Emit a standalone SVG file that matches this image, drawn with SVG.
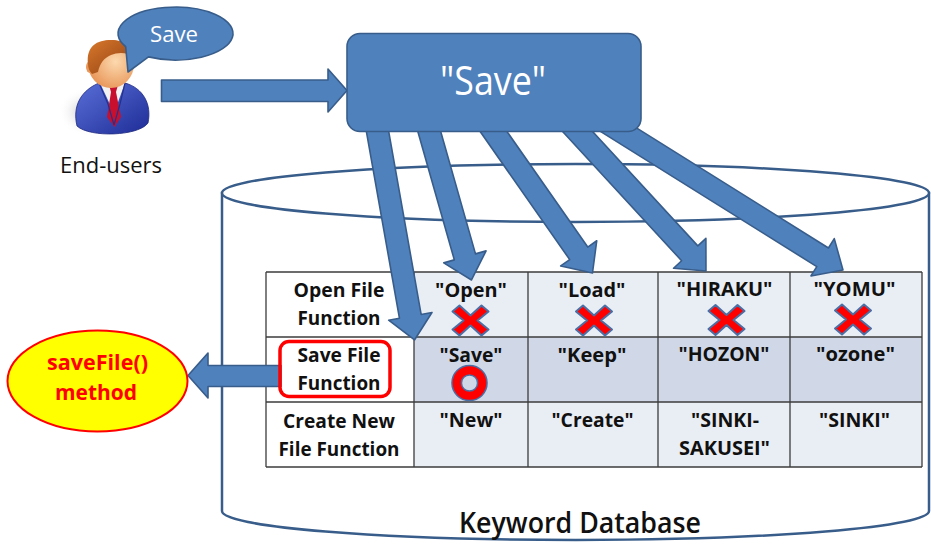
<svg xmlns="http://www.w3.org/2000/svg" width="931" height="544" viewBox="0 0 931 544">
  <defs>
    <style>
      .blue { fill: #4F81BD; stroke: #385D8A; stroke-width: 1.6; stroke-linejoin: round; }
      .sans { font-family: "Open Sans", "Noto Sans", "Liberation Sans", sans-serif; }
      .cell { font-family: "Open Sans", "Noto Sans", "Liberation Sans", sans-serif; font-weight: bold; font-size: 19px; fill: #111111; text-anchor: middle; }
      .grid { stroke: #3C3C3C; stroke-width: 1.3; fill: none; }
      .cross { fill: #FF0000; stroke: #4A6FA5; stroke-width: 2; stroke-linejoin: round; }
    </style>
    <path id="xmark" d="M-18,-9 L-11,-15 L0,-5 L11,-15 L18,-9 L7,0 L18,9 L11,15 L0,5 L-11,15 L-18,9 L-7,0 Z"/>
    <linearGradient id="suit" x1="0" y1="0" x2="1" y2="1">
      <stop offset="0" stop-color="#5A6FD8"/>
      <stop offset="1" stop-color="#1E2C96"/>
    </linearGradient>
    <radialGradient id="skin" cx="0.6" cy="0.45" r="0.6">
      <stop offset="0" stop-color="#FCD9AE"/>
      <stop offset="1" stop-color="#E9975A"/>
    </radialGradient>
    <linearGradient id="hair" x1="0" y1="0" x2="1" y2="1">
      <stop offset="0" stop-color="#D8782C"/>
      <stop offset="1" stop-color="#8E3F12"/>
    </linearGradient>
    <radialGradient id="shade" cx="0.5" cy="0.5" r="0.5">
      <stop offset="0" stop-color="#BFBFBF"/>
      <stop offset="1" stop-color="#FFFFFF" stop-opacity="0"/>
    </radialGradient>
  </defs>

  <rect width="931" height="544" fill="#FFFFFF"/>

  <!-- Keyword database cylinder -->
  <g id="database">
    <path d="M222,193 V511 A353.5,29 0 0 0 929,511 V193 Z" fill="#FFFFFF" stroke="#385D8A" stroke-width="2.5"/>
    <ellipse cx="575.5" cy="193" rx="353.5" ry="29" fill="#FFFFFF" stroke="#385D8A" stroke-width="2.5"/>
    <text class="sans" x="580" y="533" font-size="28" font-weight="600" text-anchor="middle" textLength="242" lengthAdjust="spacingAndGlyphs" fill="#111111">Keyword Database</text>
  </g>

  <!-- Keyword table -->
  <g id="keyword-table">
    <rect x="266" y="272" width="148" height="195" fill="#FFFFFF"/>
    <rect x="414" y="272" width="508" height="65" fill="#E9EDF4"/>
    <rect x="414" y="337" width="508" height="65" fill="#D0D8E8"/>
    <rect x="414" y="402" width="508" height="65" fill="#E9EDF4"/>
    <path class="grid" d="M266,272 H922 M266,337 H922 M266,402 H922 M266,467 H922 M266,272 V467 M414,272 V467 M528,272 V467 M658,272 V467 M790,272 V467 M922,272 V467"/>

    <text class="cell" x="339" y="297" textLength="91" lengthAdjust="spacingAndGlyphs">Open File</text>
    <text class="cell" x="339" y="325" textLength="83" lengthAdjust="spacingAndGlyphs">Function</text>
    <text class="cell" x="339" y="362" textLength="83" lengthAdjust="spacingAndGlyphs">Save File</text>
    <text class="cell" x="339" y="390" textLength="83" lengthAdjust="spacingAndGlyphs">Function</text>
    <text class="cell" x="339" y="428" textLength="112" lengthAdjust="spacingAndGlyphs">Create New</text>
    <text class="cell" x="339" y="456" textLength="121" lengthAdjust="spacingAndGlyphs">File Function</text>

    <text class="cell" x="471" y="297" textLength="72" lengthAdjust="spacingAndGlyphs">"Open"</text>
    <text class="cell" x="592" y="297" textLength="67" lengthAdjust="spacingAndGlyphs">"Load"</text>
    <text class="cell" x="724.5" y="296" textLength="96" lengthAdjust="spacingAndGlyphs">"HIRAKU"</text>
    <text class="cell" x="854.5" y="296" textLength="82" lengthAdjust="spacingAndGlyphs">"YOMU"</text>

    <text class="cell" x="471" y="362" textLength="63" lengthAdjust="spacingAndGlyphs">"Save"</text>
    <text class="cell" x="592" y="362" textLength="69" lengthAdjust="spacingAndGlyphs">"Keep"</text>
    <text class="cell" x="724" y="361" textLength="91" lengthAdjust="spacingAndGlyphs">"HOZON"</text>
    <text class="cell" x="855.5" y="361" textLength="79" lengthAdjust="spacingAndGlyphs">"ozone"</text>

    <text class="cell" x="471" y="427" textLength="63" lengthAdjust="spacingAndGlyphs">"New"</text>
    <text class="cell" x="592.5" y="427" textLength="82" lengthAdjust="spacingAndGlyphs">"Create"</text>
    <text class="cell" x="725" y="427" textLength="68" lengthAdjust="spacingAndGlyphs">"SINKI-</text>
    <text class="cell" x="724.5" y="455" textLength="91" lengthAdjust="spacingAndGlyphs">SAKUSEI"</text>
    <text class="cell" x="854.5" y="427" textLength="71" lengthAdjust="spacingAndGlyphs">"SINKI"</text>

    <!-- rejected / accepted marks -->
    <use href="#xmark" class="cross" transform="translate(470.5,320.5)"/>
    <use href="#xmark" class="cross" transform="translate(594,320.5)"/>
    <use href="#xmark" class="cross" transform="translate(726.5,320)"/>
    <use href="#xmark" class="cross" transform="translate(853,319.5)"/>
    <g id="accept-mark" fill="none">
      <circle cx="469.5" cy="383" r="12.8" stroke="#4A6FA5" stroke-width="11"/>
      <circle cx="469.5" cy="383" r="12.8" stroke="#FF0000" stroke-width="8"/>
    </g>
  </g>

  <!-- connectors -->
  <g id="connectors">
    <path class="blue" transform="translate(375.5,120) rotate(-10.05)" d="M-11,0 V199.4 H-22 L0,223.4 L22,199.4 H11 V0 Z"/>
    <path class="blue" transform="translate(426,120) rotate(-15.87)" d="M-11,0 V142.3 H-22 L0,166.3 L22,142.3 H11 V0 Z"/>
    <path class="blue" transform="translate(485.5,120) rotate(-34.96)" d="M-11,0 V162.7 H-22 L0,186.7 L22,162.7 H11 V0 Z"/>
    <path class="blue" transform="translate(567,120) rotate(-42.63)" d="M-11,0 V181.2 H-22 L0,205.2 L22,181.2 H11 V0 Z"/>
    <path class="blue" transform="translate(603,120) rotate(-57.99)" d="M-11,0 V259 H-22 L0,283 L22,259 H11 V0 Z"/>
    <path class="blue" d="M161.5,80 H328 V69 L347,90.5 L328,112 V101.5 H161.5 Z"/>
    <path class="blue" d="M281,365.5 H208 V353 L188,375.5 L208,398 V386.5 H281 Z"/>
  </g>

  <!-- highlighted row label -->
  <g id="save-function-highlight">
    <rect x="280" y="341.5" width="110" height="55" rx="9" fill="none" stroke="#FF0000" stroke-width="3.5"/>
  </g>

  <!-- spoken keyword box -->
  <g id="keyword-box">
    <rect class="blue" x="347" y="33.5" width="294" height="98" rx="13"/>
    <text class="sans" x="493" y="95" font-size="40" text-anchor="middle" textLength="106" lengthAdjust="spacingAndGlyphs" fill="#FFFFFF">"Save"</text>
  </g>

  <!-- resulting method -->
  <g id="method">
    <ellipse cx="97.5" cy="381" rx="90" ry="50.5" fill="#FFFF00" stroke="#FF0000" stroke-width="2"/>
    <text class="sans" x="97.5" y="370" font-size="22" font-weight="bold" text-anchor="middle" textLength="101" lengthAdjust="spacingAndGlyphs" fill="#FF0000">saveFile()</text>
    <text class="sans" x="96" y="400" font-size="22" font-weight="bold" text-anchor="middle" textLength="82" lengthAdjust="spacingAndGlyphs" fill="#FF0000">method</text>
  </g>

  <!-- end user -->
  <g id="end-user">
    <ellipse cx="86" cy="112" rx="28" ry="24" fill="url(#shade)"/>
    <path d="M77,126 C72,105 82,90 99,83 L125,83 C143,88 152,104 148,123 C139,136 90,138 77,126 Z" fill="url(#suit)" stroke="#1E2A80" stroke-width="0.8"/>
    <path d="M100,83 L125,83 L114,113 Z" fill="#F2F2F2"/>
    <path d="M109,85 L118,85 L116,92 L121,117 L114.5,127 L107,117 L111,92 Z" fill="#C8102E"/>
    <path d="M99,83 L108,104 L114,125 M125,83 L120,104 L114,125" fill="none" stroke="#22318F" stroke-width="1.2"/>
    <rect x="103" y="77" width="17" height="8" fill="#E9A26A"/>
    <ellipse cx="111" cy="64" rx="23" ry="24" fill="url(#skin)"/>
    <ellipse cx="90" cy="67" rx="4" ry="6" fill="#E9975A"/>
    <path d="M88,64 C86,46 97,40 111,40 C125,40 134,47 134,57 C127,52 118,52 111,55 C104,58 100,63 98,72 L92,74 C89,71 88,67 88,64 Z" fill="url(#hair)"/>
    <text class="sans" x="111" y="173" font-size="22" text-anchor="middle" textLength="102" lengthAdjust="spacingAndGlyphs" fill="#111111">End-users</text>
  </g>

  <!-- speech bubble -->
  <g id="speech-bubble">
    <path class="blue" stroke-width="2" d="M148.5,56.9 L128,72 L125.7,46.75 A57.5,26.5 0 1 1 148.5,56.9 Z"/>
    <text class="sans" x="174" y="41.5" font-size="22" text-anchor="middle" textLength="48" lengthAdjust="spacingAndGlyphs" fill="#FFFFFF">Save</text>
  </g>
</svg>
